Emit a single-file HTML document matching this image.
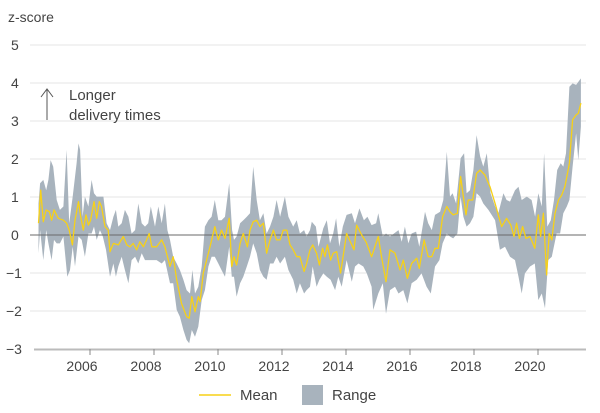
<!DOCTYPE html>
<html><head><meta charset="utf-8"><style>
html,body{margin:0;padding:0;background:#fff;}
svg{display:block;font-family:"Liberation Sans",sans-serif;}
</style></head><body>
<svg id="chart" width="600" height="413" viewBox="0 0 600 413" xmlns="http://www.w3.org/2000/svg">
<text x="8" y="22" font-size="14" fill="#444">z-score</text>
<g id="grid"></g>
<g id="yticks"></g>
<path id="band" fill="#a8b3bd" stroke="none"/>
<line id="zero" stroke="#6a6a6a" stroke-width="1"/>
<polyline id="meanLine" fill="none" stroke="#f7d117" stroke-width="1.3" stroke-linejoin="round"/>
<g id="xaxis"></g>
<g>
<line x1="47" y1="120" x2="47" y2="90" stroke="#555" stroke-width="1"/>
<path d="M41,97 L47,89 L53,97" fill="none" stroke="#555" stroke-width="1"/>
<text font-size="15" fill="#444"><tspan x="69" y="100">Longer</tspan><tspan x="69" y="120">delivery times</tspan></text>
</g>
<g>
<line x1="199" y1="395" x2="231" y2="395" stroke="#f7d117" stroke-width="1.5"/>
<text x="240" y="400" font-size="15" fill="#444">Mean</text>
<rect x="302" y="385" width="21" height="20" fill="#a8b3bd"/>
<text x="332" y="400" font-size="15" fill="#444">Range</text>
</g>
</svg>
<script>
const yTicks=[5,4,3,2,1,0,-1,-2,-3];
const xTickYears=[2006,2008,2010,2012,2014,2016,2018,2020];
const meanT=[2004.39,2004.46,2004.54,2004.63,2004.73,2004.80,2004.875,2005.01,2005.17,2005.27,2005.35,2005.45,2005.53,2005.64,2005.71,2005.79,2005.875,2005.95,2006.02,2006.125,2006.21,2006.29,2006.36,2006.47,2006.57,2006.625,2006.73,2006.885,2007.04,2007.15,2007.25,2007.35,2007.46,2007.56,2007.67,2007.77,2007.85,2007.93,2008.08,2008.24,2008.34,2008.5,2008.6,2008.71,2008.86,2009.02,2009.1,2009.18,2009.28,2009.385,2009.44,2009.54,2009.645,2009.75,2009.9,2010.01,2010.11,2010.22,2010.35,2010.43,2010.5,2010.58,2010.69,2010.79,2010.92,2011.0,2011.1,2011.21,2011.31,2011.42,2011.52,2011.625,2011.73,2011.83,2011.94,2012.04,2012.15,2012.25,2012.35,2012.46,2012.56,2012.69,2012.77,2012.875,2012.96,2013.08,2013.17,2013.27,2013.34,2013.42,2013.52,2013.6,2013.71,2013.83,2014.02,2014.25,2014.33,2014.49,2014.625,2014.8,2015.01,2015.11,2015.25,2015.375,2015.53,2015.69,2015.79,2015.92,2016.05,2016.21,2016.29,2016.44,2016.57,2016.68,2016.78,2016.885,2017.02,2017.15,2017.25,2017.35,2017.48,2017.58,2017.67,2017.75,2017.82,2017.96,2018.08,2018.19,2018.34,2018.5,2018.66,2018.76,2018.865,2019.02,2019.15,2019.25,2019.33,2019.42,2019.52,2019.625,2019.75,2019.9,2020.01,2020.08,2020.17,2020.27,2020.35,2020.43,2020.53,2020.64,2020.74,2020.84,2020.98,2021.08,2021.19,2021.26,2021.34];
const meanV=[0.31,1.18,0.35,0.66,0.61,0.39,0.66,0.44,0.39,0.31,0.13,-0.26,0.39,0.88,0.48,0.13,0.53,0.26,0.39,0.88,0.44,0.88,0.75,0.22,0.13,-0.44,-0.22,-0.26,-0.04,-0.26,-0.31,-0.22,-0.39,-0.18,-0.31,-0.13,0.04,-0.31,-0.31,-0.13,-0.31,-0.83,-0.57,-1.18,-1.8,-2.15,-2.19,-1.62,-2.02,-1.62,-1.75,-1.0,-0.66,-0.31,0.22,-0.13,0.13,-0.09,0.44,-0.83,-0.57,-0.79,-0.22,0.04,-0.31,0.13,0.35,0.39,0.22,0.31,-0.48,-0.13,0.13,-0.13,-0.13,0.13,0.13,-0.26,-0.39,-0.57,-0.57,-0.96,-0.75,-0.39,-0.26,-0.48,-0.79,-0.35,-0.57,-0.26,-0.66,-0.48,-0.44,-1.0,0.04,-0.39,0.26,0.0,-0.18,-0.57,-0.04,-0.57,-1.23,-0.39,-0.48,-0.92,-0.66,-1.14,-0.75,-0.61,-0.88,-0.13,-0.57,-0.57,-0.35,-0.35,0.48,0.75,0.61,0.53,0.57,1.54,1.0,0.53,0.92,0.92,1.62,1.71,1.58,1.27,0.83,0.53,0.22,0.44,0.26,-0.04,0.31,-0.09,0.22,-0.09,-0.04,-0.35,0.53,-0.04,0.57,-1.05,0.04,-0.13,0.57,0.92,1.05,1.27,1.89,3.03,3.16,3.2,3.47];
const hiT=[2004.39,2004.44,2004.54,2004.63,2004.7,2004.77,2004.85,2004.96,2005.06,2005.17,2005.27,2005.35,2005.46,2005.58,2005.64,2005.69,2005.77,2005.84,2005.95,2006.05,2006.125,2006.21,2006.31,2006.42,2006.52,2006.625,2006.73,2006.81,2006.885,2006.99,2007.09,2007.2,2007.3,2007.41,2007.51,2007.615,2007.72,2007.82,2007.9,2008.03,2008.135,2008.24,2008.34,2008.42,2008.5,2008.6,2008.71,2008.81,2008.92,2009.02,2009.125,2009.2,2009.28,2009.385,2009.49,2009.59,2009.7,2009.8,2009.9,2010.01,2010.11,2010.22,2010.35,2010.44,2010.5,2010.58,2010.69,2010.79,2010.9,2011.0,2011.1,2011.21,2011.31,2011.42,2011.52,2011.625,2011.73,2011.83,2011.94,2012.09,2012.2,2012.35,2012.46,2012.56,2012.69,2012.77,2012.875,2012.93,2013.06,2013.14,2013.29,2013.4,2013.5,2013.6,2013.69,2013.79,2013.9,2014.02,2014.18,2014.28,2014.42,2014.56,2014.67,2014.8,2014.94,2015.01,2015.15,2015.25,2015.375,2015.5,2015.64,2015.74,2015.84,2015.95,2016.05,2016.19,2016.29,2016.47,2016.57,2016.68,2016.78,2016.94,2017.04,2017.15,2017.25,2017.33,2017.44,2017.58,2017.69,2017.77,2017.875,2017.98,2018.08,2018.19,2018.29,2018.4,2018.52,2018.66,2018.76,2018.92,2019.02,2019.125,2019.28,2019.39,2019.49,2019.65,2019.8,2019.91,2020.01,2020.12,2020.19,2020.29,2020.4,2020.5,2020.6,2020.71,2020.79,2020.875,2020.98,2021.08,2021.19,2021.34];
const hiV=[0.83,1.36,1.45,1.18,1.45,1.97,1.8,0.92,0.66,0.75,2.24,0.31,1.01,1.89,2.41,2.24,0.48,1.01,0.75,1.45,1.1,1.01,1.01,1.01,0.31,0.13,0.48,0.66,0.22,0.31,0.66,0.48,0.04,0.13,0.83,0.31,0.22,0.31,0.75,0.22,0.75,0.31,0.83,0.13,-0.13,-0.57,-0.75,-0.92,-1.18,-1.45,-1.54,-0.92,-1.54,-1.36,-0.83,0.22,0.39,0.48,0.92,0.39,0.39,0.48,1.36,0.13,-0.13,-0.04,0.31,0.39,0.48,0.57,1.8,0.92,0.39,0.57,0.04,0.22,0.48,0.92,0.48,1.01,0.48,0.22,0.39,0.04,0.13,-0.04,0.13,0.35,0.22,-0.31,0.18,0.39,-0.22,0.04,0.44,-0.31,0.22,0.53,0.57,0.31,0.70,0.39,0.48,0.26,0.31,0.57,-0.04,0.04,-0.04,0.04,0.13,-0.18,0.22,-0.22,0.04,0.09,-0.31,0.61,0.31,0.13,0.53,0.61,0.92,2.19,1.01,1.1,0.83,2.02,2.15,1.1,1.18,1.71,2.63,2.07,1.8,2.15,1.1,0.75,0.57,1.1,0.92,0.88,1.18,1.27,0.92,1.01,0.92,0.48,1.1,0.75,2.15,0.22,0.39,0.92,1.71,1.89,1.8,2.15,3.9,3.99,3.95,4.12];
const loT=[2004.39,2004.44,2004.54,2004.63,2004.7,2004.8,2004.875,2004.96,2005.06,2005.17,2005.29,2005.375,2005.46,2005.53,2005.64,2005.74,2005.84,2005.95,2006.05,2006.125,2006.21,2006.31,2006.4,2006.5,2006.625,2006.73,2006.81,2006.885,2006.99,2007.09,2007.2,2007.3,2007.41,2007.51,2007.615,2007.72,2007.82,2007.93,2008.08,2008.24,2008.34,2008.5,2008.6,2008.71,2008.81,2008.92,2009.02,2009.1,2009.18,2009.28,2009.385,2009.49,2009.59,2009.7,2009.8,2009.9,2010.01,2010.11,2010.22,2010.35,2010.43,2010.5,2010.58,2010.69,2010.79,2010.9,2011.0,2011.1,2011.21,2011.31,2011.42,2011.52,2011.625,2011.73,2011.83,2011.94,2012.09,2012.2,2012.35,2012.46,2012.56,2012.69,2012.77,2012.875,2012.96,2013.08,2013.17,2013.29,2013.4,2013.52,2013.66,2013.76,2013.865,2014.02,2014.18,2014.28,2014.39,2014.54,2014.65,2014.8,2014.85,2015.01,2015.15,2015.25,2015.375,2015.53,2015.64,2015.79,2015.92,2016.05,2016.21,2016.36,2016.52,2016.65,2016.78,2016.92,2017.02,2017.15,2017.25,2017.35,2017.48,2017.58,2017.67,2017.77,2017.875,2017.98,2018.08,2018.19,2018.29,2018.45,2018.66,2018.81,2018.97,2019.125,2019.28,2019.39,2019.49,2019.59,2019.75,2019.9,2020.01,2020.12,2020.22,2020.32,2020.43,2020.58,2020.69,2020.79,2020.9,2020.98,2021.08,2021.19,2021.26,2021.34];
const loV=[-0.48,0.13,-0.66,0.13,-0.22,-0.66,-0.13,-0.22,-0.22,-0.04,-1.1,-0.92,-0.31,-0.83,-0.04,-0.13,-0.57,0.04,0.04,0.22,-0.13,0.13,-0.04,-0.39,-1.1,-0.75,-1.1,-0.83,-0.57,-0.92,-1.27,-0.66,-0.57,-0.75,-0.48,-0.66,-0.66,-0.66,-0.66,-0.75,-0.66,-1.27,-1.27,-1.97,-2.15,-2.5,-2.76,-2.85,-2.5,-2.68,-2.41,-1.71,-1.45,-0.83,-0.57,-0.57,-0.75,-0.92,-1.1,-0.31,-1.1,-1.1,-1.62,-1.27,-1.1,-0.83,-0.57,-0.22,-0.48,-0.92,-1.1,-1.18,-0.75,-0.75,-0.57,-0.75,-0.57,-0.92,-1.18,-1.54,-1.27,-1.54,-1.45,-1.36,-0.83,-1.36,-1.18,-1.01,-1.10,-1.18,-1.45,-1.1,-1.36,-0.66,-1.23,-0.83,-0.75,-0.83,-1.01,-1.36,-1.97,-1.54,-1.27,-2.07,-1.45,-1.36,-1.54,-1.45,-1.8,-1.27,-1.18,-1.01,-1.36,-1.54,-0.83,-0.66,-0.22,0.04,-0.04,-0.09,0.04,1.01,0.48,0.22,0.31,0.48,1.1,1.01,0.83,0.66,0.39,-0.39,-0.31,-0.57,-0.66,-1.1,-1.54,-1.01,-0.83,-0.75,-1.71,-1.54,-1.93,-0.66,-0.57,0.04,0.04,0.57,0.75,0.92,1.8,2.68,1.97,2.85];

function xs(t){return 90+32*(t-2006);}
function ys(v){return 235-38*v;}
const NS='http://www.w3.org/2000/svg';
const grid=document.getElementById('grid'),yt=document.getElementById('yticks'),xa=document.getElementById('xaxis');
yTicks.forEach(v=>{
  if(v!==0&&v!==-3){const l=document.createElementNS(NS,'line');
  
  
  l.setAttribute('x1',30);l.setAttribute('x2',586);l.setAttribute('y1',ys(v));l.setAttribute('y2',ys(v));
  l.setAttribute('stroke','#e6e6e6');l.setAttribute('stroke-width','1');grid.appendChild(l);}
  const t=document.createElementNS(NS,'text');
  
  
  t.setAttribute('x',v<0?6:11);t.setAttribute('y',ys(v)+5);t.setAttribute('font-size','14');t.setAttribute('fill','#444');
  t.textContent=v<0?'\u2212'+(-v):String(v);yt.appendChild(t);
});
const z=document.getElementById('zero');
z.setAttribute('x1',30);z.setAttribute('x2',586);z.setAttribute('y1',ys(0));z.setAttribute('y2',ys(0));
const ax=document.createElementNS(NS,'line');


ax.setAttribute('x1',34);ax.setAttribute('x2',586);ax.setAttribute('y1',ys(-3)+0.5);ax.setAttribute('y2',ys(-3)+0.5);
ax.setAttribute('stroke','#bbb');ax.setAttribute('stroke-width','2');xa.appendChild(ax);
xTickYears.forEach(yr=>{
  const l=document.createElementNS(NS,'line');
  
  
  l.setAttribute('x1',xs(yr));l.setAttribute('x2',xs(yr));l.setAttribute('y1',ys(-3));l.setAttribute('y2',ys(-3)+6);
  l.setAttribute('stroke','#888');l.setAttribute('stroke-width','1');xa.appendChild(l);
  const t=document.createElementNS(NS,'text');
  
  
  t.setAttribute('x',xs(yr)-8);t.setAttribute('y',371);t.setAttribute('font-size','14');t.setAttribute('fill','#444');t.setAttribute('text-anchor','middle');
  t.textContent=String(yr);xa.appendChild(t);
});
let d='';
hiT.forEach((t,i)=>{d+=(i?'L':'M')+xs(t).toFixed(1)+','+ys(hiV[i]).toFixed(1);});
for(let i=loT.length-1;i>=0;i--){d+='L'+xs(loT[i]).toFixed(1)+','+ys(loV[i]).toFixed(1);}
document.getElementById('band').setAttribute('d',d+'Z');
document.getElementById('meanLine').setAttribute('points',meanT.map((t,i)=>xs(t).toFixed(1)+','+ys(meanV[i]).toFixed(1)).join(' '));
</script>
</body></html>
